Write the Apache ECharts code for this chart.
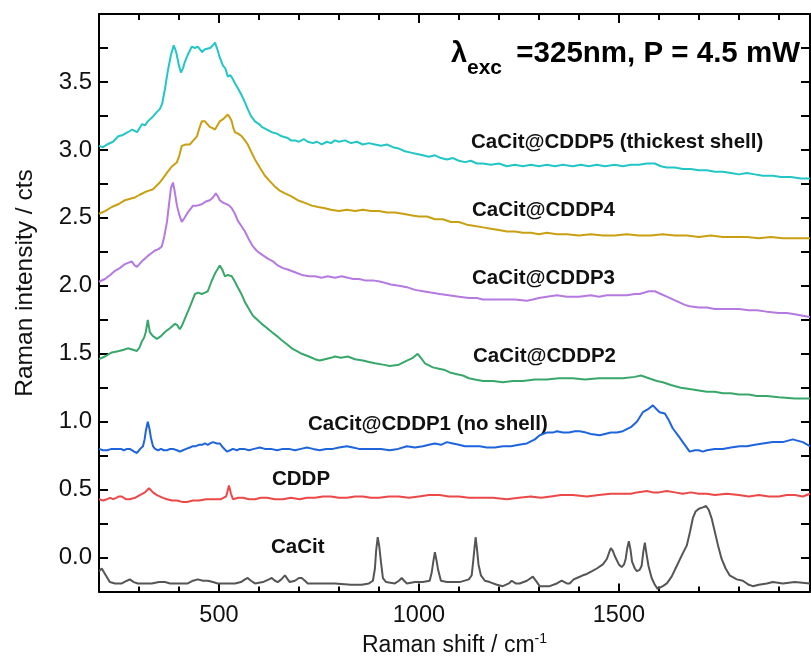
<!DOCTYPE html>
<html lang="en">
<head>
    <meta charset="UTF-8">
    <title>Raman spectra</title>
    <script src="https://cdn.jsdelivr.net/npm/echarts@6/dist/echarts.min.js"></script>
    <style>
        html, body { margin: 0; padding: 0; background: #fff; }
    </style>
</head>
<body>
<div id="main" style="width: 811px;height: 662px;"></div>
<script>
    // axis ranges
    var xMin = 200, xMax = 1978;
    var yMin = -0.25, yMax = 4.0;
    var xLabelValues = [500, 1000, 1500];

    // spectra, [Raman shift, intensity]
    var cacit = [[200,-0.10],[207,-0.08],[215,-0.12],[227,-0.18],[240,-0.19],[257,-0.19],[270,-0.17],[277,-0.16],[287,-0.18],[297,-0.19],[315,-0.19],[332,-0.19],[350,-0.18],[365,-0.18],[378,-0.19],[390,-0.19],[405,-0.19],[422,-0.19],[435,-0.17],[447,-0.16],[460,-0.17],[472,-0.17],[485,-0.18],[497,-0.19],[520,-0.19],[540,-0.19],[555,-0.18],[565,-0.16],[572,-0.15],[580,-0.17],[590,-0.19],[610,-0.18],[625,-0.16],[632,-0.15],[640,-0.17],[647,-0.18],[656,-0.16],[665,-0.13],[672,-0.16],[677,-0.18],[690,-0.17],[700,-0.15],[707,-0.15],[715,-0.17],[722,-0.19],[750,-0.19],[790,-0.19],[830,-0.20],[857,-0.20],[875,-0.19],[885,-0.17],[890,-0.08],[893,0.05],[897,0.15],[901,0.08],[905,-0.03],[910,-0.15],[918,-0.18],[940,-0.19],[950,-0.17],[957,-0.15],[963,-0.17],[970,-0.19],[990,-0.18],[1010,-0.18],[1027,-0.17],[1032,-0.11],[1036,-0.03],[1040,0.04],[1044,-0.02],[1048,-0.09],[1055,-0.17],[1070,-0.18],[1102,-0.18],[1125,-0.16],[1132,-0.13],[1136,-0.02],[1140,0.10],[1142,0.15],[1145,0.07],[1149,-0.05],[1155,-0.13],[1165,-0.17],[1177,-0.18],[1195,-0.20],[1210,-0.21],[1225,-0.19],[1232,-0.17],[1242,-0.19],[1252,-0.19],[1270,-0.17],[1285,-0.14],[1295,-0.18],[1302,-0.21],[1327,-0.21],[1345,-0.19],[1357,-0.17],[1370,-0.19],[1377,-0.19],[1387,-0.16],[1395,-0.15],[1410,-0.13],[1420,-0.12],[1433,-0.10],[1445,-0.08],[1460,-0.05],[1470,-0.01],[1476,0.04],[1480,0.07],[1485,0.05],[1490,0.01],[1500,-0.05],[1507,-0.07],[1513,-0.05],[1517,-0.01],[1521,0.07],[1525,0.12],[1529,0.06],[1533,-0.03],[1540,-0.08],[1545,-0.10],[1552,-0.09],[1557,-0.06],[1561,0.04],[1565,0.11],[1569,0.03],[1574,-0.06],[1582,-0.15],[1590,-0.20],[1597,-0.23],[1610,-0.21],[1620,-0.19],[1632,-0.14],[1645,-0.06],[1658,0.02],[1670,0.09],[1678,0.19],[1685,0.29],[1692,0.34],[1700,0.36],[1710,0.37],[1718,0.38],[1725,0.35],[1732,0.29],[1740,0.19],[1748,0.09],[1757,-0.01],[1767,-0.08],[1777,-0.13],[1795,-0.16],[1810,-0.17],[1825,-0.20],[1835,-0.21],[1850,-0.20],[1870,-0.19],[1885,-0.18],[1910,-0.19],[1940,-0.18],[1978,-0.19]];

    var cddp = [[200,0.43],[210,0.42],[220,0.43],[228,0.44],[235,0.43],[243,0.44],[250,0.45],[257,0.45],[267,0.43],[277,0.43],[290,0.44],[302,0.46],[315,0.48],[325,0.51],[335,0.48],[345,0.46],[360,0.44],[370,0.43],[382,0.42],[395,0.42],[408,0.41],[420,0.41],[435,0.42],[450,0.42],[468,0.43],[485,0.43],[505,0.43],[518,0.45],[525,0.53],[530,0.47],[535,0.43],[548,0.44],[560,0.44],[575,0.43],[590,0.43],[605,0.44],[620,0.44],[640,0.43],[660,0.43],[680,0.44],[702,0.43],[720,0.44],[740,0.44],[760,0.45],[780,0.45],[800,0.44],[820,0.44],[840,0.45],[860,0.45],[880,0.44],[900,0.44],[925,0.45],[950,0.45],[975,0.44],[1000,0.45],[1025,0.46],[1052,0.46],[1075,0.45],[1100,0.45],[1125,0.44],[1150,0.44],[1185,0.44],[1220,0.43],[1250,0.44],[1280,0.45],[1305,0.44],[1330,0.45],[1355,0.46],[1385,0.46],[1420,0.45],[1450,0.46],[1480,0.47],[1510,0.47],[1530,0.47],[1545,0.48],[1570,0.49],[1585,0.48],[1600,0.48],[1620,0.49],[1640,0.48],[1660,0.47],[1680,0.48],[1700,0.47],[1720,0.47],[1740,0.46],[1770,0.47],[1800,0.46],[1825,0.45],[1850,0.46],[1875,0.45],[1900,0.45],[1920,0.46],[1940,0.46],[1960,0.45],[1978,0.47]];

    var cddp1 = [[200,0.80],[210,0.79],[220,0.79],[232,0.80],[245,0.80],[255,0.80],[262,0.79],[270,0.80],[277,0.80],[288,0.78],[295,0.77],[303,0.80],[310,0.82],[314,0.87],[317,0.93],[322,1.00],[326,0.95],[330,0.88],[335,0.82],[340,0.80],[348,0.79],[355,0.80],[362,0.79],[370,0.79],[378,0.80],[385,0.80],[395,0.79],[402,0.78],[410,0.79],[418,0.80],[427,0.81],[435,0.82],[442,0.82],[450,0.83],[458,0.83],[465,0.84],[472,0.83],[478,0.84],[485,0.85],[495,0.84],[502,0.84],[510,0.81],[520,0.78],[528,0.79],[535,0.80],[545,0.79],[552,0.80],[562,0.80],[575,0.79],[588,0.80],[602,0.81],[615,0.80],[630,0.80],[645,0.79],[660,0.80],[675,0.80],[690,0.79],[705,0.80],[720,0.81],[735,0.80],[752,0.79],[768,0.80],[785,0.80],[800,0.81],[820,0.82],[835,0.81],[850,0.80],[868,0.80],[885,0.80],[905,0.80],[927,0.79],[948,0.80],[970,0.82],[990,0.81],[1010,0.82],[1025,0.83],[1040,0.84],[1055,0.83],[1070,0.85],[1085,0.84],[1100,0.83],[1115,0.82],[1130,0.82],[1152,0.82],[1170,0.81],[1190,0.81],[1210,0.82],[1230,0.82],[1250,0.83],[1270,0.84],[1290,0.87],[1302,0.90],[1320,0.92],[1335,0.92],[1345,0.93],[1360,0.92],[1375,0.92],[1390,0.93],[1402,0.93],[1418,0.92],[1430,0.91],[1452,0.90],[1465,0.91],[1480,0.92],[1495,0.92],[1510,0.93],[1530,0.96],[1545,1.00],[1560,1.07],[1572,1.09],[1585,1.12],[1595,1.09],[1602,1.07],[1615,1.06],[1625,1.01],[1635,0.95],[1648,0.90],[1660,0.85],[1677,0.78],[1690,0.79],[1700,0.79],[1710,0.78],[1720,0.79],[1740,0.80],[1760,0.80],[1780,0.81],[1802,0.82],[1820,0.82],[1840,0.83],[1860,0.84],[1885,0.85],[1910,0.85],[1935,0.87],[1960,0.85],[1978,0.82]];

    var cddp2 = [[200,1.46],[215,1.48],[232,1.51],[250,1.52],[262,1.53],[272,1.54],[285,1.53],[295,1.52],[302,1.55],[307,1.59],[313,1.62],[317,1.66],[322,1.75],[327,1.66],[335,1.63],[345,1.61],[355,1.63],[365,1.66],[378,1.69],[390,1.72],[396,1.71],[402,1.68],[408,1.71],[415,1.76],[428,1.85],[440,1.94],[448,1.95],[457,1.94],[465,1.95],[472,1.96],[481,2.03],[490,2.09],[496,2.12],[502,2.15],[508,2.12],[515,2.07],[522,2.08],[532,2.07],[540,2.03],[547,1.99],[556,1.94],[565,1.88],[575,1.83],[585,1.78],[596,1.75],[607,1.72],[620,1.69],[632,1.66],[645,1.63],[657,1.60],[670,1.57],[682,1.54],[695,1.52],[707,1.50],[725,1.48],[740,1.46],[752,1.45],[765,1.46],[780,1.47],[790,1.48],[805,1.47],[822,1.48],[840,1.46],[860,1.45],[875,1.44],[890,1.43],[910,1.42],[927,1.41],[950,1.42],[970,1.45],[985,1.47],[997,1.50],[1005,1.47],[1015,1.43],[1035,1.40],[1050,1.39],[1065,1.38],[1080,1.36],[1095,1.35],[1110,1.34],[1125,1.32],[1140,1.31],[1160,1.30],[1185,1.30],[1210,1.29],[1235,1.30],[1260,1.30],[1290,1.31],[1320,1.31],[1350,1.32],[1385,1.32],[1415,1.31],[1450,1.32],[1480,1.32],[1510,1.32],[1540,1.33],[1555,1.34],[1575,1.32],[1595,1.30],[1610,1.29],[1630,1.27],[1655,1.25],[1677,1.24],[1700,1.23],[1720,1.22],[1740,1.22],[1760,1.21],[1780,1.21],[1800,1.20],[1825,1.20],[1845,1.19],[1870,1.19],[1900,1.18],[1940,1.17],[1978,1.17]];

    var cddp3 = [[200,2.03],[215,2.05],[228,2.08],[240,2.11],[252,2.13],[265,2.16],[282,2.18],[289,2.15],[295,2.14],[301,2.16],[307,2.18],[315,2.20],[322,2.22],[331,2.24],[340,2.26],[349,2.27],[357,2.29],[363,2.36],[370,2.47],[375,2.60],[380,2.72],[385,2.76],[389,2.70],[395,2.59],[401,2.52],[407,2.47],[414,2.50],[422,2.54],[430,2.57],[435,2.59],[445,2.59],[457,2.60],[467,2.62],[477,2.63],[485,2.65],[492,2.68],[497,2.66],[502,2.63],[511,2.61],[520,2.60],[526,2.59],[532,2.57],[540,2.53],[547,2.48],[556,2.44],[565,2.40],[575,2.34],[585,2.29],[594,2.26],[602,2.24],[612,2.22],[622,2.20],[635,2.18],[647,2.15],[660,2.13],[672,2.12],[690,2.10],[707,2.08],[725,2.07],[740,2.07],[757,2.06],[772,2.07],[790,2.06],[807,2.07],[822,2.06],[835,2.05],[850,2.05],[865,2.04],[885,2.04],[905,2.03],[930,2.01],[950,2.00],[970,1.99],[990,1.97],[1010,1.96],[1030,1.95],[1052,1.94],[1075,1.93],[1100,1.92],[1125,1.91],[1145,1.91],[1160,1.90],[1185,1.90],[1210,1.90],[1240,1.90],[1270,1.89],[1285,1.90],[1300,1.91],[1320,1.92],[1345,1.93],[1370,1.92],[1400,1.92],[1430,1.93],[1450,1.92],[1470,1.93],[1500,1.93],[1520,1.93],[1540,1.94],[1552,1.94],[1575,1.96],[1590,1.96],[1605,1.94],[1620,1.92],[1635,1.90],[1650,1.88],[1665,1.86],[1677,1.85],[1700,1.84],[1720,1.84],[1740,1.83],[1760,1.83],[1780,1.83],[1800,1.83],[1825,1.82],[1845,1.82],[1870,1.81],[1900,1.80],[1920,1.80],[1940,1.79],[1960,1.78],[1978,1.77]];

    var cddp4 = [[200,2.53],[215,2.55],[232,2.58],[248,2.60],[265,2.63],[278,2.64],[290,2.65],[302,2.67],[315,2.69],[325,2.70],[335,2.71],[345,2.74],[352,2.76],[362,2.80],[372,2.84],[383,2.88],[395,2.91],[401,2.96],[407,3.03],[417,3.04],[427,3.04],[436,3.07],[445,3.10],[451,3.16],[457,3.21],[465,3.21],[471,3.19],[477,3.17],[484,3.16],[490,3.15],[496,3.18],[502,3.21],[512,3.23],[522,3.26],[527,3.24],[532,3.21],[536,3.16],[540,3.13],[548,3.12],[557,3.10],[565,3.07],[572,3.04],[580,2.99],[590,2.93],[602,2.87],[615,2.81],[627,2.77],[640,2.73],[652,2.70],[665,2.68],[680,2.66],[697,2.63],[715,2.61],[732,2.59],[748,2.58],[765,2.57],[780,2.56],[800,2.55],[820,2.56],[840,2.55],[860,2.56],[880,2.55],[900,2.55],[920,2.54],[940,2.54],[960,2.53],[980,2.52],[1000,2.51],[1020,2.51],[1040,2.49],[1060,2.49],[1080,2.47],[1100,2.47],[1120,2.45],[1140,2.44],[1160,2.43],[1180,2.42],[1200,2.41],[1220,2.40],[1240,2.40],[1260,2.39],[1280,2.39],[1300,2.38],[1320,2.39],[1345,2.38],[1370,2.38],[1400,2.37],[1430,2.38],[1460,2.37],[1490,2.37],[1520,2.38],[1550,2.37],[1580,2.37],[1610,2.38],[1640,2.37],[1670,2.37],[1700,2.36],[1730,2.37],[1760,2.36],[1790,2.36],[1820,2.36],[1850,2.35],[1880,2.36],[1910,2.35],[1940,2.35],[1978,2.35]];

    var cddp5 = [[200,3.03],[210,3.02],[220,3.04],[235,3.06],[248,3.10],[260,3.11],[272,3.13],[283,3.15],[295,3.13],[308,3.19],[315,3.18],[322,3.21],[333,3.24],[345,3.28],[352,3.30],[358,3.34],[365,3.45],[372,3.58],[380,3.70],[387,3.77],[393,3.72],[400,3.62],[405,3.57],[410,3.60],[415,3.65],[422,3.70],[432,3.76],[440,3.75],[447,3.76],[458,3.72],[465,3.74],[470,3.75],[478,3.75],[485,3.77],[490,3.79],[496,3.74],[502,3.68],[510,3.62],[516,3.60],[522,3.54],[528,3.55],[533,3.53],[540,3.49],[548,3.45],[557,3.40],[565,3.35],[572,3.30],[580,3.25],[590,3.21],[600,3.19],[607,3.17],[620,3.15],[632,3.13],[645,3.12],[657,3.10],[670,3.09],[680,3.07],[690,3.07],[700,3.06],[712,3.08],[722,3.06],[735,3.05],[745,3.06],[757,3.04],[770,3.06],[780,3.05],[790,3.07],[800,3.06],[815,3.07],[830,3.05],[845,3.06],[860,3.04],[875,3.05],[890,3.04],[905,3.03],[920,3.04],[935,3.02],[950,3.01],[965,2.99],[980,2.98],[995,2.97],[1010,2.96],[1025,2.95],[1040,2.96],[1055,2.94],[1070,2.93],[1085,2.94],[1100,2.92],[1115,2.91],[1130,2.92],[1145,2.90],[1160,2.90],[1180,2.89],[1200,2.90],[1220,2.88],[1240,2.89],[1260,2.88],[1280,2.89],[1300,2.88],[1320,2.89],[1340,2.88],[1360,2.89],[1385,2.88],[1405,2.89],[1425,2.88],[1445,2.89],[1465,2.88],[1490,2.89],[1510,2.88],[1530,2.89],[1550,2.89],[1570,2.90],[1590,2.90],[1605,2.88],[1620,2.87],[1640,2.87],[1660,2.86],[1680,2.86],[1700,2.85],[1720,2.85],[1740,2.84],[1760,2.84],[1780,2.83],[1800,2.82],[1820,2.83],[1840,2.82],[1860,2.81],[1885,2.81],[1905,2.80],[1930,2.80],[1955,2.79],[1978,2.79]];

    var seriesNames = ['CaCit', 'CDDP', 'CaCit@CDDP1 (no shell)', 'CaCit@CDDP2', 'CaCit@CDDP3', 'CaCit@CDDP4', 'CaCit@CDDP5 (thickest shell)'];
    var seriesData = [cacit, cddp, cddp1, cddp2, cddp3, cddp4, cddp5];
    var seriesColors = ['#555555', '#ec4848', '#1e64dc', '#38a86a', '#b57ae0', '#c8a012', '#22c6c6'];

    // label positions (left x, middle y) in px
    var labelPos = [[271, 549], [272, 481], [308, 426], [473, 358], [472, 280], [472, 212], [471, 144]];

    var font = 'Arial, "Liberation Sans", sans-serif';

    var myChart = echarts.init(document.getElementById('main'));

    var series = [];
    for (var i = 0; i < seriesData.length; i++) {
        series.push({
            name: seriesNames[i],
            type: 'line',
            xAxisIndex: 0,
            yAxisIndex: 0,
            data: seriesData[i],
            showSymbol: false,
            lineStyle: { color: seriesColors[i], width: 2 },
            itemStyle: { color: seriesColors[i] },
            animation: false
        });
    }

    var graphics = [];
    for (var j = 0; j < seriesNames.length; j++) {
        graphics.push({
            type: 'text',
            left: labelPos[j][0],
            top: labelPos[j][1] - 12,
            style: {
                text: seriesNames[j],
                fontFamily: font,
                fontWeight: 'bold',
                fontSize: 20.5,
                fill: '#111'
            }
        });
    }
    // excitation note
    graphics.push({
        type: 'text', left: 451, top: 39,
        style: { text: 'λ', fontFamily: font, fontWeight: 'bold', fontSize: 29, fill: '#000' }
    });
    graphics.push({
        type: 'text', left: 467, top: 58,
        style: { text: 'exc', fontFamily: font, fontWeight: 'bold', fontSize: 21, fill: '#000' }
    });
    graphics.push({
        type: 'text', right: 11, top: 39,
        style: { text: '=325nm, P = 4.5 mW', fontFamily: font, fontWeight: 'bold', fontSize: 29.5, fill: '#000' }
    });
    // y axis title
    graphics.push({
        type: 'text', x: 25, y: 283, rotation: Math.PI / 2,
        style: { text: 'Raman intensity / cts', fontFamily: font, fontSize: 24.5, fill: '#111', align: 'center', verticalAlign: 'middle' }
    });

    var axisLine = { show: true, onZero: false, lineStyle: { color: '#000', width: 2 } };

    var option = {
        backgroundColor: '#fff',
        animation: false,
        grid: { left: 99, right: 1, top: 14, bottom: 68 },
        xAxis: [
            {
                type: 'value', position: 'bottom', min: xMin, max: xMax,
                axisLine: axisLine,
                axisTick: { inside: true, length: 8, customValues: xLabelValues, lineStyle: { color: '#000', width: 2 } },
                axisLabel: {
                    customValues: xLabelValues, fontFamily: font, fontSize: 23.5, color: '#111', margin: 12,
                    formatter: function (v) { return String(v); }
                },
                splitLine: { show: false },
                name: '{n|Raman shift / cm}{s|-1}',
                nameLocation: 'middle',
                nameGap: 37,
                nameTextStyle: {
                    rich: {
                        n: { fontFamily: font, fontSize: 23, color: '#111' },
                        s: { fontFamily: font, fontSize: 14, color: '#111', verticalAlign: 'top', padding: [0, 0, 12, 0] }
                    }
                }
            },
            {
                type: 'value', position: 'bottom', min: xMin, max: xMax, interval: 100,
                axisLine: { show: false, onZero: false },
                axisTick: { inside: true, length: 5, lineStyle: { color: '#000', width: 2 } },
                axisLabel: { show: false },
                splitLine: { show: false }
            },
            {
                type: 'value', position: 'top', min: xMin, max: xMax,
                axisLine: axisLine,
                axisTick: { inside: true, length: 9, customValues: xLabelValues, lineStyle: { color: '#000', width: 2 } },
                axisLabel: { show: false },
                splitLine: { show: false }
            },
            {
                type: 'value', position: 'top', min: xMin, max: xMax, interval: 100,
                axisLine: { show: false, onZero: false },
                axisTick: { inside: true, length: 6, lineStyle: { color: '#000', width: 2 } },
                axisLabel: { show: false },
                splitLine: { show: false }
            }
        ],
        yAxis: [
            {
                type: 'value', position: 'left', min: yMin, max: yMax, interval: 0.25,
                axisLine: axisLine,
                axisTick: { inside: true, length: 9, lineStyle: { color: '#000', width: 2 } },
                axisLabel: {
                    fontFamily: font, fontSize: 24, color: '#111', margin: 7,
                    formatter: function (v) {
                        var h = v * 2;
                        if (Math.abs(h - Math.round(h)) > 1e-6 || v < -0.01 || v > 3.9) return '';
                        return v.toFixed(1);
                    }
                },
                splitLine: { show: false }
            },
            {
                type: 'value', position: 'right', min: yMin, max: yMax, interval: 0.25,
                axisLine: axisLine,
                axisTick: { inside: true, length: 9, lineStyle: { color: '#000', width: 2 } },
                axisLabel: { show: false },
                splitLine: { show: false }
            }
        ],
        graphic: graphics,
        series: series
    };

    myChart.setOption(option);
</script>
</body>
</html>
